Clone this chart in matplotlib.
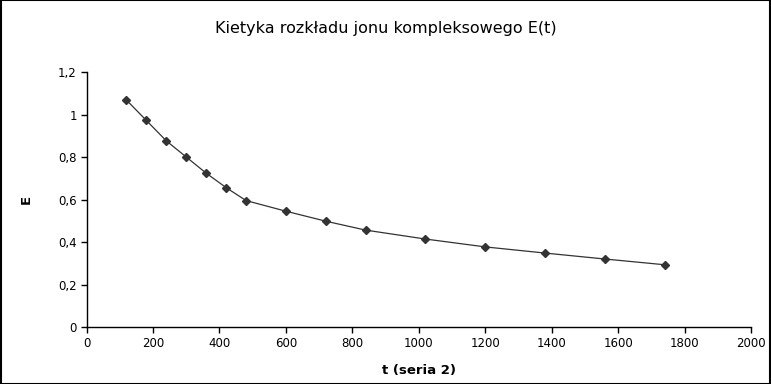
import matplotlib
matplotlib.use("Agg")
import matplotlib.pyplot as plt
from matplotlib.ticker import FuncFormatter, MultipleLocator

t = [120, 180, 240, 300, 360, 420, 480, 600, 720, 840, 1020, 1200, 1380, 1560, 1740]
E = [1.068, 0.972, 0.876, 0.800, 0.724, 0.656, 0.595, 0.545, 0.498, 0.456, 0.414, 0.377, 0.348, 0.320, 0.293]

title = "Kietyka rozkładu jonu kompleksowego E(t)"
xlabel = "t (seria 2)"
ylabel = "E"

fig = plt.figure(figsize=(7.71, 3.84), dpi=100)
ax = fig.add_axes([0.1123, 0.1484, 0.974 - 0.1123, 0.8125 - 0.1484])
ax.plot(t, E, color="#333333", lw=0.9, marker="D", markersize=4.5, markerfacecolor="#333333", markeredgecolor="#333333")
ax.set_xlim(0, 2000)
ax.set_ylim(0, 1.2)
ax.xaxis.set_major_locator(MultipleLocator(200))
ax.yaxis.set_major_locator(MultipleLocator(0.2))

def fmt(v, pos):
    s = ("%.1f" % v).rstrip("0").rstrip(".")
    return s.replace(".", ",")

ax.yaxis.set_major_formatter(FuncFormatter(fmt))
ax.xaxis.set_major_formatter(FuncFormatter(lambda v, p: "%d" % round(v)))
for s in ["top", "right"]:
    ax.spines[s].set_visible(False)
for s in ["left", "bottom"]:
    ax.spines[s].set_linewidth(1.0)
ax.tick_params(direction="out", length=4, width=1, labelsize=8.5, colors="black", pad=3)

fig.text(0.5, 0.925, title, ha="center", va="center", fontsize=11.5)
ax.set_xlabel(xlabel, fontsize=9.5, fontweight="bold", labelpad=10)
ax.set_ylabel(ylabel, fontsize=9.5, fontweight="bold", labelpad=18)

border = plt.Rectangle((0.0007, 0.0013), 0.9986, 0.9974, transform=fig.transFigure, fill=False, edgecolor="black", lw=1.5)
fig.patches.append(border)

fig.savefig("out.png", dpi=100)
